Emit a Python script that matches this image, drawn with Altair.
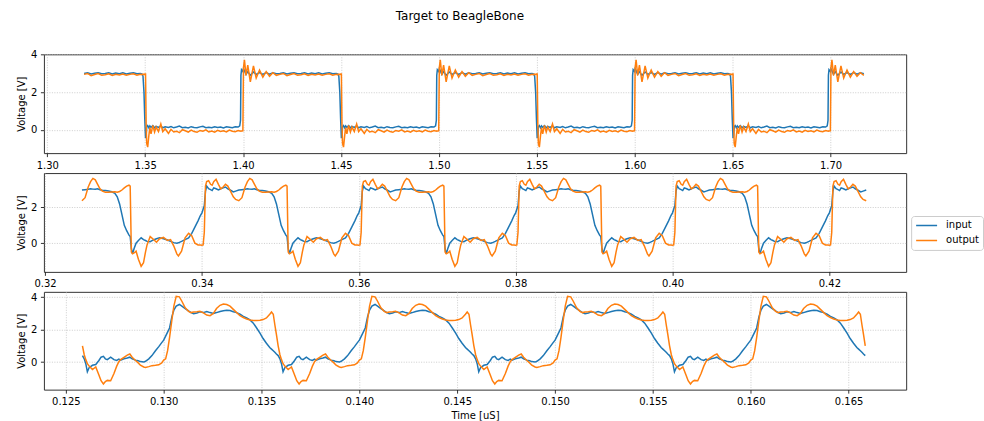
import altair as alt
import pandas as pd

FONT = "DejaVu Sans"
BLUE = "#1f77b4"
ORANGE = "#ff7f0e"

# ---- Panel 1: slow square wave, one period relative to each falling edge (offsets in 1e-3) ----
P1_OFFSET = [-1.6, -1.1, -0.6, -0.2, 0.2, 0.5, 0.8, 1.3, 1.9, 2.4, 3.0, 3.9, 4.8, 5.6, 6.8, 8.0,
             9.0, 10.2, 11.9, 13.2, 14.6, 16.0, 17.5, 19.0, 20.5, 22.0, 23.5, 25.0, 26.5, 28.0,
             29.5, 31.0, 32.5, 34.0, 35.5, 37.0, 38.5, 40.0, 41.5, 43.0, 44.5, 46.0, 47.5, 48.3,
             48.7, 48.9, 49.2, 49.9, 50.2, 50.7, 51.5, 52.4, 53.7, 55.3, 56.7, 58.4, 60.1, 61.8,
             63.5, 65.2, 67.0, 68.8, 70.6, 72.4, 74.2, 76.0, 77.8, 79.6, 81.4, 83.2, 85.0, 86.8,
             88.6, 90.4, 92.2, 94.0, 95.8, 97.6]
P1_INPUT = [2.97, 2.85, 2.0, 0.6, -0.45, -0.3, 0.15, 0.22, 0.1, 0.2, 0.12, 0.22, 0.1, 0.18, 0.12, 0.2,
            0.1, 0.15, 0.12, 0.17, 0.1, 0.14, 0.19, 0.11, 0.13, 0.09, 0.16, 0.12, 0.1, 0.15,
            0.18, 0.11, 0.13, 0.1, 0.16, 0.12, 0.14, 0.09, 0.15, 0.13, 0.11, 0.16, 0.14, 0.2,
            0.5, 2.9, 3.2, 3.1, 3.25, 3.15, 2.95, 3.1, 2.9, 3.08, 2.95, 3.05, 2.95, 3.04,
            2.96, 3.03, 2.98, 3.0, 3.04, 2.97, 3.01, 3.03, 2.98, 3.0, 3.04, 2.97, 3.02, 2.99,
            3.03, 2.97, 3.01, 3.03, 2.98, 3.0]
P1_OUTPUT = [2.93, 2.96, 2.94, 2.97, 2.97, 0.3, -0.75, -0.93, -0.3, 0.11, -0.22, 0.23, -0.13, 0.14, -0.1, 0.3,
             -0.1, 0.05, -0.2, 0.02, -0.12, -0.08, -0.16, 0.0, -0.06, -0.13, -0.02, -0.1, -0.14, -0.04,
             -0.08, -0.01, -0.12, -0.07, -0.13, -0.03, -0.09, -0.06, -0.12, -0.02, -0.08, -0.11, -0.05, -0.07,
             -0.07, -0.08, -0.07, -0.06, 3.3, 3.72, 2.9, 3.45, 2.55, 3.4, 2.75, 3.18, 2.8, 3.1,
             2.85, 3.04, 2.9, 2.95, 3.0, 2.88, 2.94, 2.99, 2.9, 2.93, 2.98, 2.89, 2.96, 2.92,
             2.97, 2.9, 2.95, 2.98, 2.91, 2.95]
P1_ANCHORS = [1.25, 1.35, 1.45, 1.55, 1.65, 1.75]
P1_SPAN = (1.3183, 1.7186)

# ---- Panel 2: medium rate, offsets (1e-3) from each period start ----
P2_OFFSET = [0.0, 0.15, 0.3, 0.45, 0.6, 0.85, 1.1, 1.3, 1.5, 1.8, 2.1, 2.4, 2.7, 3.0, 3.3, 3.6,
             4.0, 4.3, 4.7, 5.1, 5.5, 5.8, 6.1, 6.4, 6.7, 7.0, 7.3, 7.7, 8.1, 8.5, 8.9, 9.2,
             9.5, 9.8, 10.1, 10.4, 10.7, 10.85, 11.0, 11.15, 11.35, 11.6, 11.9, 12.25, 12.55, 12.8,
             13.0, 13.4, 13.8, 14.2, 14.6, 15.1, 15.6, 16.0, 16.4, 16.8, 17.0, 17.4, 17.85, 18.3,
             18.7, 19.1, 19.5, 19.8]
P2_INPUT = [1.7, 1.9, 2.1, 2.9, 3.2, 3.05, 3.0, 2.95, 3.1, 3.05, 2.98, 3.05, 3.1, 3.15, 3.05, 2.98,
            2.87, 2.92, 2.98, 3.0, 3.02, 3.05, 3.03, 3.02, 3.05, 3.0, 2.97, 2.95, 2.93, 2.88, 2.8, 2.6,
            2.2, 1.6, 1.0, 0.7, 0.45, 0.38, -0.3, -0.6, -0.3, 0.0, 0.15, 0.3, 0.2, 0.15,
            0.1, 0.08, 0.18, 0.25, 0.3, 0.25, 0.18, 0.1, 0.03, 0.0, 0.02, 0.1, 0.2, 0.3,
            0.55, 0.9, 1.25, 1.55]
P2_OUTPUT = [-0.12, -0.1, 0.6, 3.2, 3.45, 3.5, 3.3, 3.25, 3.45, 3.58, 3.3, 3.05, 3.15, 3.3, 3.2, 2.95,
             2.6, 2.45, 2.38, 2.55, 3.15, 3.45, 3.63, 3.55, 3.3, 3.05, 2.92, 2.86, 2.85, 2.87, 2.88, 2.86,
             2.9, 2.98, 3.1, 3.2, 3.25, 3.2, -0.5, -0.6, -0.55, -0.45, -0.9, -1.3, -1.1, -0.5,
             -0.1, 0.37, 0.22, 0.05, 0.25, 0.32, 0.15, 0.2, -0.15, -0.6, -0.72, -0.45, 0.3, 0.55,
             0.42, 0.0, -0.1, -0.1]
P2_ANCHORS = [0.30, 0.32, 0.34, 0.36, 0.38, 0.40, 0.42]
P2_SPAN = (0.3246, 0.4247)

# ---- Panel 3: fast rate, offsets (1e-3) from each period start ----
P3_OFFSET = [0.0, 0.1, 0.2, 0.3, 0.42, 0.52, 0.64, 0.8, 0.93, 1.1, 1.27, 1.4, 1.53, 1.7, 1.85, 2.03,
             2.2, 2.37, 2.54, 2.7, 2.88, 3.05, 3.22, 3.39, 3.56, 3.73, 3.9, 4.07, 4.24, 4.41, 4.58, 4.75,
             4.92, 5.08, 5.25, 5.42, 5.51, 5.6, 5.68, 5.76, 5.85, 5.94, 6.02, 6.1, 6.19, 6.36, 6.53, 6.69,
             6.8, 6.92, 7.02, 7.12, 7.29, 7.46, 7.6, 7.71, 7.8, 7.97, 8.14, 8.27, 8.39, 8.56, 8.7, 8.81,
             8.98, 9.07, 9.24, 9.4, 9.58, 9.75, 9.9]
P3_INPUT = [1.35, 1.6, 1.85, 2.1, 2.8, 3.2, 3.45, 3.55, 3.45, 3.3, 3.15, 3.05, 2.98, 3.03, 3.1, 3.05,
            3.12, 3.05, 3.0, 3.05, 3.12, 3.17, 3.2, 3.18, 3.1, 3.05, 2.95, 2.82, 2.72, 2.6, 2.4, 2.1,
            1.78, 1.45, 1.16, 0.9, 0.8, 0.7, 0.6, 0.5, 0.4, 0.2, -0.1, -0.6, -0.35, -0.2, -0.15, 0.1,
            0.3, 0.35, 0.2, 0.15, 0.3, 0.15, 0.1, 0.18, 0.12, 0.2, 0.25, 0.3, 0.2, 0.12, 0.08, 0.03,
            0.0, 0.05, 0.2, 0.4, 0.7, 0.95, 1.2]
P3_OUTPUT = [0.12, 0.2, 0.7, 1.5, 2.6, 3.45, 4.05, 4.02, 3.75, 3.34, 3.13, 3.05, 3.09, 3.1, 3.13, 3.03,
             2.9, 2.86, 3.0, 3.3, 3.5, 3.58, 3.55, 3.45, 3.25, 3.05, 2.86, 2.75, 2.65, 2.6, 2.57, 2.56,
             2.58, 2.62, 2.72, 2.95, 3.09, 2.95, 2.3, 1.7, 1.0, 0.45, 0.15, -0.1, -0.25, -0.46, -0.3, -0.8,
             -1.15, -1.35, -1.2, -1.13, -1.15, -0.71, -0.25, 0.02, 0.15, 0.29, 0.43, 0.5, 0.3, 0.1, -0.05, -0.19,
             -0.3, -0.33, -0.28, -0.22, -0.2, -0.17, -0.05]
P3_ANCHORS = [0.12, 0.13, 0.14, 0.15, 0.16]
P3_SPAN = (0.12585, 0.1659)


def build(offsets, inp, out, anchors, span):
    rows = []
    for a in anchors:
        for r, vi, vo in zip(offsets, inp, out):
            t = round(a + r * 1e-3, 8)
            if span[0] <= t <= span[1]:
                rows.append({"t": t, "v": vi, "signal": "input"})
                rows.append({"t": t, "v": vo, "signal": "output"})
    return pd.DataFrame(rows)


color = alt.Color(
    "signal:N",
    scale=alt.Scale(domain=["input", "output"], range=[BLUE, ORANGE]),
    legend=alt.Legend(
        title=None, orient="none", legendX=869, legendY=162,
        symbolType="stroke", symbolSize=441, symbolStrokeWidth=1.5, clipHeight=11,
        labelFont=FONT, labelFontSize=10, labelColor="black", labelOffset=8,
        rowPadding=4, padding=4, fillColor="white", strokeColor="#cccccc", cornerRadius=3,
    ),
)


def panel(df, xdom, xticks, xfmt, ydom, yticks, height, xtitle=None):
    x_axis = alt.Axis(values=xticks, format=xfmt, labelFlush=False, labelOverlap=False,
                      titleFontWeight="normal")
    return alt.Chart(df).mark_line(strokeWidth=1.5).encode(
        x=alt.X("t:Q", scale=alt.Scale(domain=xdom, nice=False, zero=False),
                axis=x_axis, title=xtitle),
        y=alt.Y("v:Q", scale=alt.Scale(domain=ydom, nice=False, zero=False),
                axis=alt.Axis(values=yticks, format="d", titleFontWeight="normal"),
                title="Voltage [V]"),
        color=color,
    ).properties(width=864, height=height)


p1 = panel(build(P1_OFFSET, P1_INPUT, P1_OUTPUT, P1_ANCHORS, P1_SPAN),
           [1.2983, 1.7386], [1.30, 1.35, 1.40, 1.45, 1.50, 1.55, 1.60, 1.65, 1.70], ".2f",
           [-1.25, 4.02], [0, 2, 4], 99)
p2 = panel(build(P2_OFFSET, P2_INPUT, P2_OUTPUT, P2_ANCHORS, P2_SPAN),
           [0.31985, 0.42979], [0.32, 0.34, 0.36, 0.38, 0.40, 0.42], ".2f",
           [-1.61, 3.93], [0, 2], 99)
p3 = panel(build(P3_OFFSET, P3_INPUT, P3_OUTPUT, P3_ANCHORS, P3_SPAN),
           [0.12388, 0.16794], [0.125, 0.130, 0.135, 0.140, 0.145, 0.150, 0.155, 0.160, 0.165], ".3f",
           [-1.70, 4.33], [0, 2, 4], 98, xtitle="Time [uS]")

chart = alt.vconcat(p1, p2, p3, spacing=20, bounds="flush").properties(
    title=alt.TitleParams("Target to BeagleBone", font=FONT, fontSize=12, fontWeight="normal",
                          color="black", anchor="middle", baseline="alphabetic", offset=17, dx=-40),
    padding={"left": 16, "top": 9, "right": 0, "bottom": 0},
    background="white",
).configure_view(stroke="#333333", strokeWidth=1).configure_axis(
    labelFont=FONT, labelFontSize=10, labelColor="black",
    titleFont=FONT, titleFontSize=10, titleFontWeight="normal", titleColor="black",
    tickColor="black", tickSize=3.5, tickWidth=0.8, labelPadding=3.5, titlePadding=4,
    domain=False, grid=True, gridColor="#c0c0c0", gridDash=[1, 1.5], gridWidth=0.8,
)

chart.save("out.html", embed_options={"renderer": "svg", "actions": False})
